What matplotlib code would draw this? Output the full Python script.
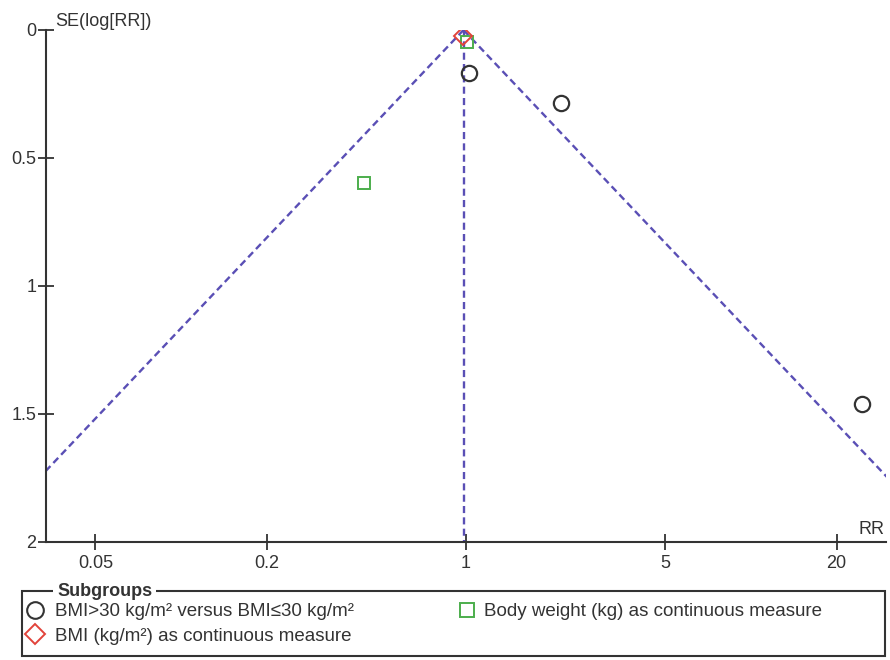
import numpy as np
import matplotlib
matplotlib.use('Agg')
import matplotlib.pyplot as plt
from matplotlib.patches import Rectangle
from matplotlib.lines import Line2D

plt.rcParams['font.family'] = ['Liberation Sans', 'DejaVu Sans']

# funnel plot data
circle_rr = [1.025, 2.15, 24.5]
circle_se = [0.168, 0.286, 1.46]
square_rr = [0.44, 1.01]
square_se = [0.598, 0.047]
diamond_rr = [0.975]
diamond_se = [0.025]

pooled_rr = 0.98
se_max = 2.0
xticks = [0.05, 0.2, 1, 5, 20]
yticks = [0, 0.5, 1, 1.5, 2]
labels = ['BMI>30 kg/m² versus BMI≤30 kg/m²',
          'BMI (kg/m²) as continuous measure',
          'Body weight (kg) as continuous measure']

line_col = '#5a4fb5'
dark = '#333333'
green = '#4cae4c'
red = '#e2433a'
W, H = 890, 660

fig = plt.figure(figsize=(8.9, 6.6), dpi=100)
ax = fig.add_axes([46/W, 118/H, 840/W, 512/H])

# funnel limits
se_line = np.array([0, se_max])
lo = pooled_rr * np.exp(-1.96 * se_line)
hi = pooled_rr * np.exp(1.96 * se_line)
dash = (0, (3, 1.8))
ax.plot(lo, se_line, ls=dash, color=line_col, lw=1.7)
ax.plot(hi, se_line, ls=dash, color=line_col, lw=1.7)
ax.plot([pooled_rr, pooled_rr], [0, se_max], ls=dash, color=line_col, lw=1.7)

ax.plot(circle_rr, circle_se, 'o', mfc='none', mec=dark, ms=11, mew=1.6, ls='none')
ax.plot(square_rr, square_se, 's', mfc='none', mec=green, ms=8.5, mew=1.4, ls='none')
ax.plot(diamond_rr, diamond_se, 'D', mfc='none', mec=red, ms=9, mew=1.4, ls='none')

ax.set_xscale('log')
ax.set_xlim(1/29.8, 29.8)
ax.set_ylim(2, 0)
ax.set_xticks(xticks)
ax.set_xticklabels([str(t) for t in xticks])
ax.minorticks_off()
ax.set_yticks(yticks)
ax.set_yticklabels(['0', '0.5', '1', '1.5', '2'])
for s in ['top', 'right']:
    ax.spines[s].set_visible(False)
for s in ['left', 'bottom']:
    ax.spines[s].set_linewidth(1.5)
    ax.spines[s].set_color(dark)
ax.tick_params(direction='inout', length=12, width=1.3, colors=dark,
               labelsize=13, labelcolor=dark)
ax.tick_params(axis='x', pad=3)
ax.tick_params(axis='y', pad=1)

ax.text(0.011, 1.0, 'SE(log[RR])', transform=ax.transAxes, fontsize=13,
        color=dark, ha='left', va='bottom')
ax.text(0.998, 0.008, 'RR', transform=ax.transAxes, fontsize=13,
        color=dark, ha='right', va='bottom')

# legend box
fig.patches.append(Rectangle((22/W, 4/H), 863/W, 65/H, transform=fig.transFigure,
                             fill=False, ec=dark, lw=1.5))
fig.text(57/W, 69/H, 'Subgroups', fontsize=13, fontweight='bold', color=dark,
         ha='left', va='center',
         bbox=dict(facecolor='white', edgecolor='none', pad=3))

h_circle = Line2D([], [], marker='o', mfc='none', mec=dark, ms=12, mew=1.5, ls='none')
h_diamond = Line2D([], [], marker='D', mfc='none', mec=red, ms=10.5, mew=1.4, ls='none')
h_square = Line2D([], [], marker='s', mfc='none', mec=green, ms=10.5, mew=1.4, ls='none')

leg_kw = dict(loc='upper left', frameon=False, fontsize=13.5, handlelength=1.0,
              labelspacing=0.4, borderpad=0, borderaxespad=0, labelcolor=dark)
fig.legend([h_circle, h_diamond], labels[:2], bbox_to_anchor=(25.5/W, 57/H),
           handletextpad=0.55, **leg_kw)
fig.legend([h_square], labels[2:], bbox_to_anchor=(457.5/W, 57/H),
           handletextpad=0.4, **leg_kw)

fig.savefig('out.png', dpi=100)
